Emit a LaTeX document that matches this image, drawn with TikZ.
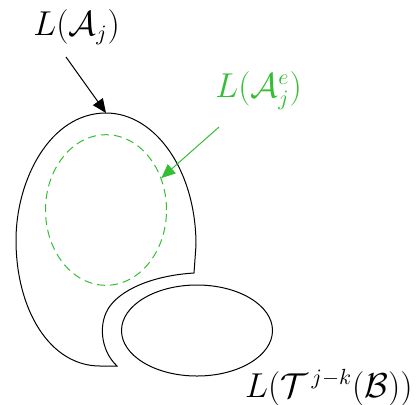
\documentclass[tikz,border=0pt]{standalone}
\usepackage{amsmath,amssymb}
\usetikzlibrary{arrows.meta,shapes.geometric}
\definecolor{setgreen}{RGB}{52,190,52}

\begin{document}
\begin{tikzpicture}[x=0.5pt,y=-0.5pt,
    bigarrow/.style={-{Triangle[length=7pt,width=6pt]},line width=0.5pt},
    setlabel/.style={anchor=base west,inner sep=0pt,font=\fontsize{16}{19}\selectfont}]
  \useasboundingbox (0,0) rectangle (418,404);
  % outer region L(A_j), with the bite taken out at the bottom right
  \draw[line width=0.5pt] (194,273) -- (196,245) .. controls (196,170) and (155,113) .. (106,113)
    .. controls (50,113) and (16,180) .. (16,240) .. controls (16,310) and (50,366) .. (100,366) -- (117,366)
    .. controls (100,350) and (98,322) .. (110,306) .. controls (125,286) and (160,275) .. (194,273);
  \coordinate (top) at (106,113);
  % inner dashed region and the other language
  \node[ellipse,draw=setgreen,dashed,dash pattern=on 4pt off 2.5pt,line width=0.5pt,inner sep=0pt,
    minimum width=60.5pt,minimum height=75.3pt] (ae) at (106,210) {};
  \node[ellipse,draw,line width=0.5pt,inner sep=0pt,minimum width=75.5pt,minimum height=45.5pt] (tb) at (197,330.5) {};
  % labels
  \node[setlabel] (la) at (33,35) {$L(\mathcal{A}_j)$};
  \node[setlabel,text=setgreen] (lae) at (215,97) {$L(\mathcal{A}^e_j)$};
  \node[setlabel,anchor=base east] (ltb) at (413,397) {$L(\mathcal{T}^{\,j-k}(\mathcal{B}))$};
  \coordinate (s1) at (66,57);
  \coordinate (s2) at (219,127);
  \draw[bigarrow] (s1) -- (top);
  \draw[bigarrow,setgreen] (s2) -- (ae.30);
\end{tikzpicture}
\end{document}
